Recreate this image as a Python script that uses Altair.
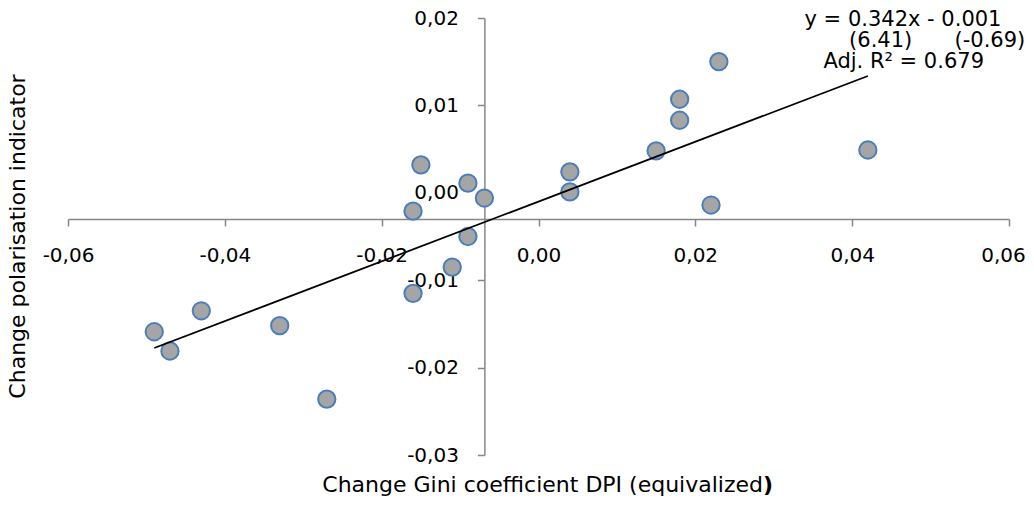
import altair as alt
import pandas as pd

# ---- data ----
gini_change = [0.0230, 0.0180, 0.0180, 0.0150, 0.0420, 0.0220, 0.0040, 0.0040,
               -0.0150, -0.0090, -0.0069, -0.0160, -0.0090, -0.0110, -0.0160,
               -0.0490, -0.0470, -0.0430, -0.0330, -0.0270]
polar_change = [0.0150, 0.0107, 0.0083, 0.0048, 0.0049, -0.0014, 0.0024, 0.0001,
                0.0032, 0.0011, -0.0006, -0.0021, -0.0050, -0.0085, -0.0115,
                -0.0159, -0.0181, -0.0135, -0.0152, -0.0236]

x_ticks = [-0.06, -0.04, -0.02, 0.0, 0.02, 0.04, 0.06]
y_ticks = [-0.03, -0.02, -0.01, 0.0, 0.01, 0.02]
x_domain = [-0.06, 0.06]
y_domain = [-0.03, 0.02]
x_cross = -0.0069   # where the vertical axis crosses
y_cross = -0.003    # where the horizontal axis crosses

slope, intercept = 0.342, -0.001
eq_line1 = ["y = 0.342x - 0.001"]
t_stats = ["(6.41)", "(-0.69)"]
eq_line3 = ["Adj. R\u00b2 = 0.679"]
x_title_main = ["Change Gini coefficient DPI (equivalized"]
x_title_paren = [")"]
y_title = ["Change polarisation indicator"]

W, H = 941, 437
FONT = "DejaVu Sans"

df_pts = pd.DataFrame({"gini": gini_change, "polar": polar_change})
x_ext = [min(gini_change), max(gini_change)]
df_line = pd.DataFrame({"gini": x_ext, "polar": [slope * v + intercept for v in x_ext]})

x_off = H * (y_domain[1] - y_cross) / (y_domain[1] - y_domain[0]) - H
y_off = -W * (x_cross - x_domain[0]) / (x_domain[1] - x_domain[0])

label_expr = "replace(replace(format(datum.value, '.2f'), '.', ','), '\u2212', '-')"
common_axis = dict(
    labelExpr=label_expr, title=None, grid=False,
    domainColor="#868686", domainWidth=1.5, tickColor="#868686", tickWidth=1.5,
    tickSize=7, labelFont=FONT, labelFontSize=20, labelColor="black",
    labelPadding=19, labelFlush=False, labelOverlap=False, labelBound=False,
)
xaxis = alt.Axis(
    values=x_ticks, offset=x_off,
    labelOffset={"condition": {"test": "datum.value > 0.059", "value": -6}, "value": 0},
    **common_axis,
)
yaxis = alt.Axis(values=y_ticks, offset=y_off, **common_axis)

xenc = alt.X("gini:Q", scale=alt.Scale(domain=x_domain, nice=False, zero=False), axis=xaxis)
yenc = alt.Y("polar:Q", scale=alt.Scale(domain=y_domain, nice=False, zero=False), axis=yaxis)

points = alt.Chart(df_pts).mark_circle(
    size=300, fill="#A5A5A5", stroke="#4A7EBB", strokeWidth=2, opacity=1
).encode(x=xenc, y=yenc)

trend = alt.Chart(df_line).mark_line(color="black", strokeWidth=1.8).encode(x=xenc, y=yenc)

def txt(values, x, y, size=20, align="center", baseline="alphabetic", angle=0, weight="normal"):
    return alt.Chart(pd.DataFrame({"t": values})).mark_text(
        font=FONT, fontSize=size, align=align, baseline=baseline, angle=angle,
        fontWeight=weight, color="black"
    ).encode(text="t:N", x=alt.value(x), y=alt.value(y))

eq1 = txt(eq_line1, 835, 7.7, size=21)
eq2a = txt(t_stats[:1], 812.7, 28.7, size=21)
eq2b = txt(t_stats[1:], 921.9, 28.7, size=21)
eq3 = txt(eq_line3, 835.7, 49.7, size=21)
xt1 = txt(x_title_main, 695, 474.2, size=22, align="right")
xt2 = txt(x_title_paren, 695, 474.2, size=22, align="left", weight="bold")
yt = txt(y_title, -50.5, 218.5, size=22, baseline="middle", angle=270)

chart = alt.layer(points, trend, eq1, eq2a, eq2b, eq3, xt1, xt2, yt).properties(
    width=W, height=H,
    autosize=alt.AutoSizeParams(type="none"),
    padding={"left": 60, "top": 10, "right": 17, "bottom": 43},
).configure_view(stroke=None)

chart.save("out.html", embed_options={"renderer": "svg", "actions": False})
